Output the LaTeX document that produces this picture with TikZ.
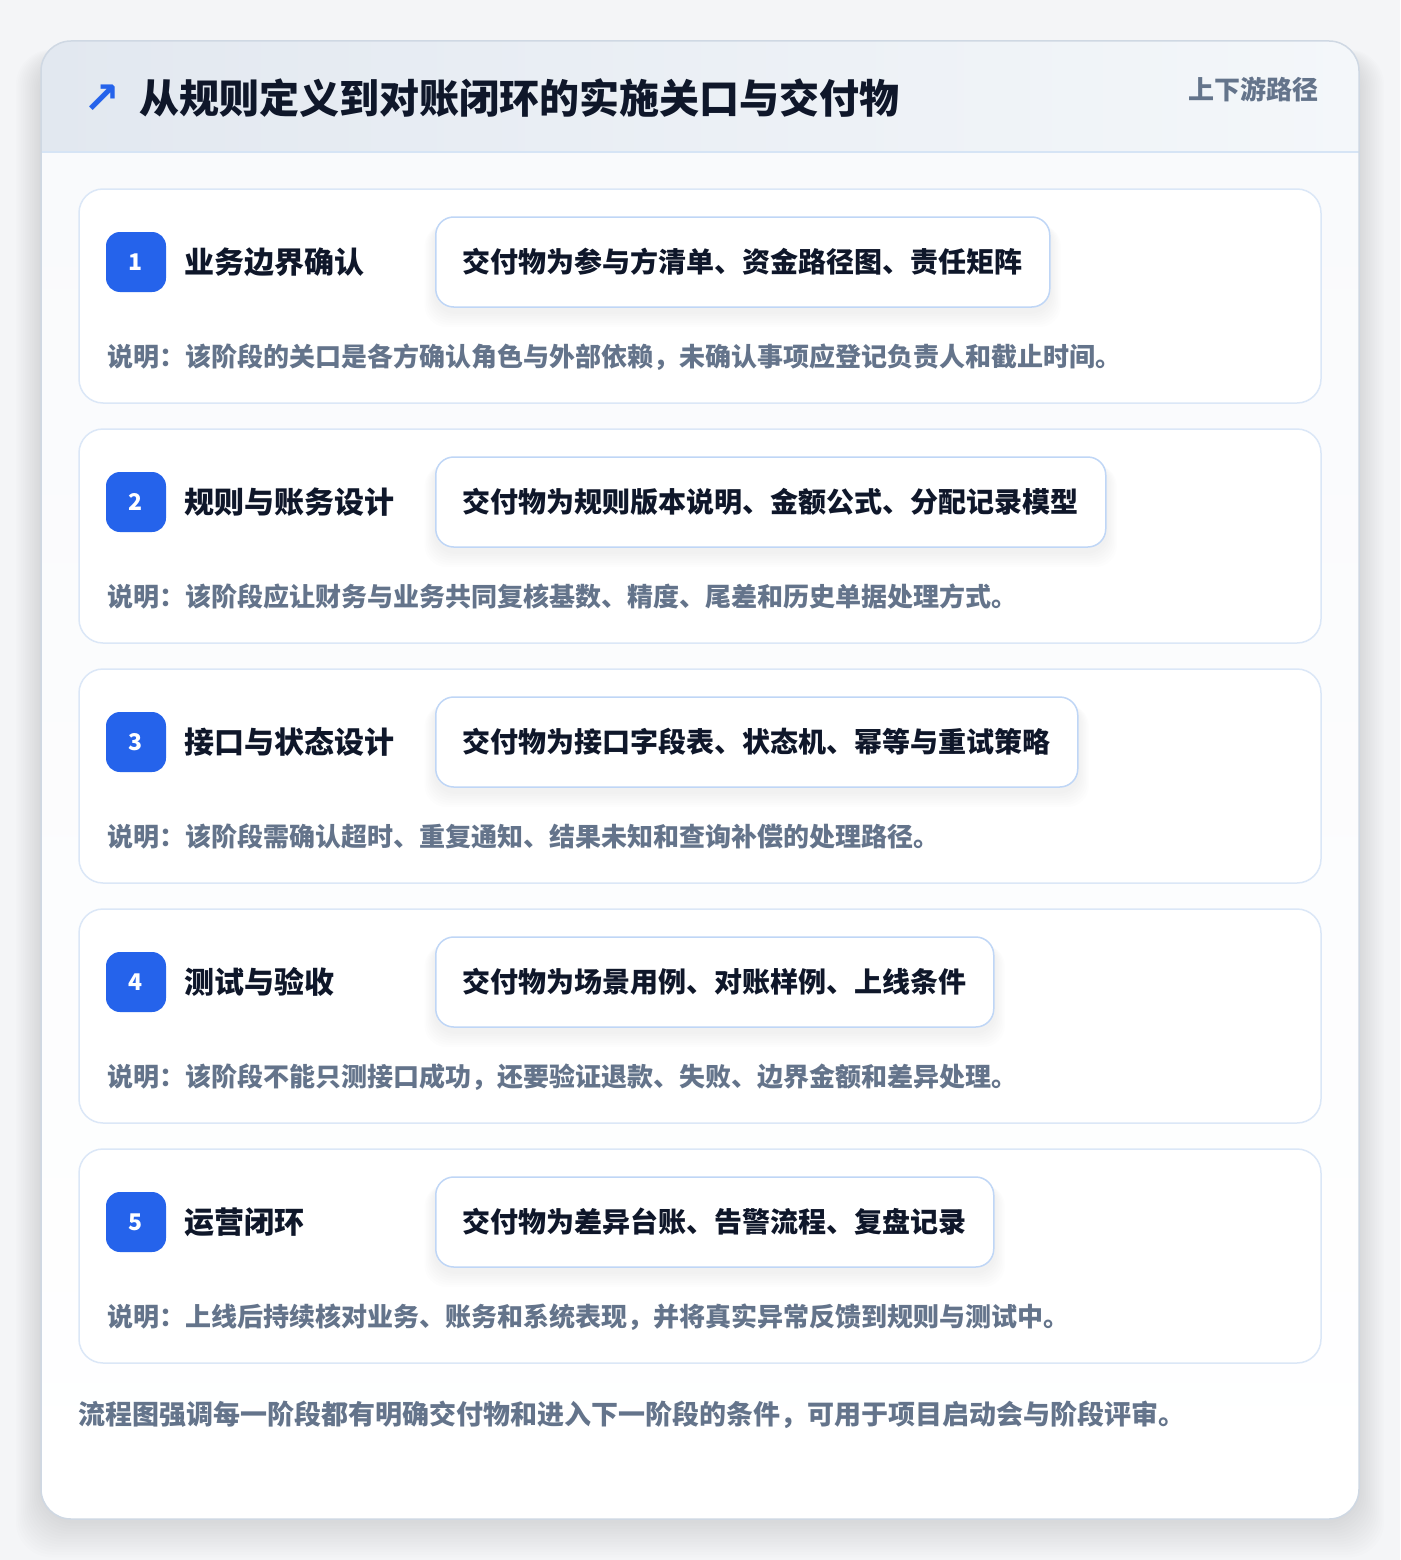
\documentclass[tikz,border=0pt]{standalone}
\usepackage{fontspec}
\setmainfont{Noto Sans CJK SC}
\usetikzlibrary{positioning,calc}
\definecolor{bgcol}{HTML}{F4F5F7}
\definecolor{outerborder}{HTML}{CFD8E3}
\definecolor{hdrL}{HTML}{E2E8F0}
\definecolor{hdrR}{HTML}{F4F7FA}
\definecolor{hdrline}{HTML}{D6E4F5}
\definecolor{bodyfill}{HTML}{F9FAFC}
\definecolor{cardborder}{HTML}{DBE7F7}
\definecolor{delborder}{HTML}{BFD6F6}
\definecolor{accent}{HTML}{2563EB}
\definecolor{ink}{HTML}{0F172A}
\definecolor{muted}{HTML}{64748B}
\pgfdeclarelayer{bglayer}
\pgfdeclarelayer{midlayer}
\pgfsetlayers{bglayer,midlayer,main}
\tikzset{
  stagecard/.style={draw=cardborder, line width=1.5pt, fill=white, rounded corners=24pt, minimum width=1242pt, minimum height=214pt, inner sep=0pt},
  badge/.style={fill=accent, rounded corners=14pt, minimum width=60pt, minimum height=60pt, inner sep=0pt, text=white, font=\bfseries\fontsize{23}{25}\selectfont},
  stagetitle/.style={anchor=west, inner sep=0pt, text=ink, font=\bfseries\fontsize{30}{32}\selectfont},
  deliv/.style={anchor=west, draw=delborder, line width=1.5pt, fill=white, rounded corners=18pt, minimum height=90pt, inner xsep=27pt, inner ysep=0pt, text=ink, font=\bfseries\fontsize{28}{30}\selectfont},
  desc/.style={anchor=west, inner sep=0pt, text=muted, font=\bfseries\fontsize{26}{28}\selectfont},
}
\begin{document}
\begin{tikzpicture}[x=1pt,y=-1pt]
\useasboundingbox (0,0) rectangle (1400,1560);
\begin{pgfonlayer}{bglayer}
\fill[bgcol] (0,0) rectangle (1400,1560);
% outer shadow
\foreach \i in {1,...,14}{
  \fill[black, opacity=0.006, rounded corners=36pt] (41-\i*1.8,41+14-\i*0.4) rectangle (1359+\i*1.8,1519+2+\i*2.6);
}
% outer card
\path[fill=bodyfill, rounded corners=30pt] (41,41) rectangle (1359,1519);
\begin{scope}
  \clip[rounded corners=30pt] (41,41) rectangle (1359,1519);
  \shade[left color=hdrL, right color=hdrR] (41,41) rectangle (1359,152);
  \shade[top color=bodyfill, bottom color=white] (41,152) rectangle (1359,1519);
\end{scope}
\draw[hdrline, line width=1.5pt] (41,152) -- (1359,152);
\draw[outerborder, line width=1.5pt, rounded corners=30pt] (41,41) rectangle (1359,1519);
\end{pgfonlayer}
% header
\node[anchor=center, inner sep=0pt, text=accent, font=\fontsize{44}{46}\selectfont] (arrow) at (102,99) {\fontspec{DejaVu Sans}\bfseries ↗};
\node[anchor=west, inner sep=0pt, text=ink, font=\bfseries\fontsize{40}{42}\selectfont] (title) at (139,98) {从规则定义到对账闭环的实施关口与交付物};
\node[anchor=east, inner sep=0pt, text=muted, font=\bfseries\fontsize{26}{28}\selectfont] (tag) at (1319,89) {上下游路径};
% stages
\foreach \n/\ttl/\dl/\ds [count=\k from 0] in {
  1/业务边界确认/交付物为参与方清单、资金路径图、责任矩阵/说明：该阶段的关口是各方确认角色与外部依赖，未确认事项应登记负责人和截止时间。,
  2/规则与账务设计/交付物为规则版本说明、金额公式、分配记录模型/说明：该阶段应让财务与业务共同复核基数、精度、尾差和历史单据处理方式。,
  3/接口与状态设计/交付物为接口字段表、状态机、幂等与重试策略/说明：该阶段需确认超时、重复通知、结果未知和查询补偿的处理路径。,
  4/测试与验收/交付物为场景用例、对账样例、上线条件/说明：该阶段不能只测接口成功，还要验证退款、失败、边界金额和差异处理。,
  5/运营闭环/交付物为差异台账、告警流程、复盘记录/说明：上线后持续核对业务、账务和系统表现，并将真实异常反馈到规则与测试中。}{
  \pgfmathsetmacro{\top}{189+240*\k}
  \begin{pgfonlayer}{bglayer}
  \node[stagecard] (card\n) at (700,\top+107) {};
  \end{pgfonlayer}
  \node[badge] (badge\n) at (136,\top+73) {\n};
  \node[stagetitle] (stitle\n) at (184,\top+73) {\ttl};
  \node[deliv] (deliv\n) at (435,\top+73) {\dl};
  \begin{pgfonlayer}{midlayer}
  \foreach \j in {1,...,7}{
    \fill[black, opacity=0.009, rounded corners=22pt] ($(deliv\n.north west)+(-\j*1.5,4+\j*0.6)$) rectangle ($(deliv\n.south east)+(\j*1.5,4+\j*2.2)$);
  }
  \end{pgfonlayer}
  \node[desc] (desc\n) at (107,\top+168) {\ds};
}
% footer
\node[anchor=west, inner sep=0pt, text=muted, font=\bfseries\fontsize{27}{29}\selectfont] (footer) at (78,1415) {流程图强调每一阶段都有明确交付物和进入下一阶段的条件，可用于项目启动会与阶段评审。};
\end{tikzpicture}
\end{document}
